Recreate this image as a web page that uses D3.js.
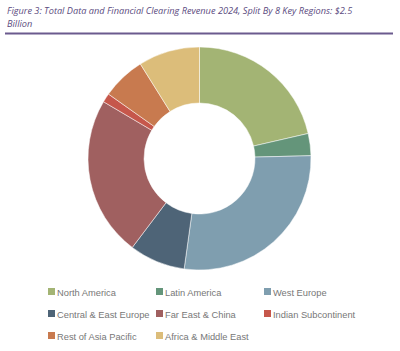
<!DOCTYPE html>
<html>
<head>
<meta charset="utf-8">
<script src="https://cdn.jsdelivr.net/npm/d3@7"></script>
<style>
  body { margin: 0; background: #fff; }
  svg { display: block; }
</style>
</head>
<body>
<div id="chart"></div>
<script>
// Revenue share by region (% of $2.5B)
const regions = ['North America', 'Latin America', 'West Europe', 'Central & East Europe',
    'Far East & China', 'Indian Subcontinent', 'Rest of Asia Pacific', 'Africa & Middle East'];
const shares = [21.4, 3.2, 27.6, 8.1, 23.2, 1.3, 6.3, 8.9];
const colors = ['#a3b474', '#64957a', '#7f9eaf', '#4e6477', '#a06060', '#c6574b', '#c87a4f', '#dcbd7a'];
const titleLines = ['Figure 3: Total Data and Financial Clearing Revenue 2024, Split By 8 Key Regions: $2.5', 'Billion'];

const width = 400, height = 351;

const svg = d3.select('#chart')
    .append('svg')
    .attr('width', width)
    .attr('height', height);

// Title
svg.append('g')
    .selectAll('text')
    .data(titleLines)
    .enter()
    .append('text')
    .attr('x', 7)
    .attr('y', (d, i) => 14 + i * 13)
    .text(d => d)
    .style('font-family', '"Open Sans", sans-serif')
    .style('font-style', 'italic')
    .style('font-size', '9.2px')
    .style('fill', '#5b4b80');

svg.append('line')
    .attr('x1', 5).attr('x2', 393)
    .attr('y1', 33.5).attr('y2', 33.5)
    .attr('stroke', '#6b5a8e')
    .attr('stroke-width', 2);

// Donut
const pie = d3.pie().sort(null).value(d => d);
const arc = d3.arc().innerRadius(55.5).outerRadius(111.5);

const donut = svg.append('g')
    .attr('transform', 'translate(199.5,158.5)');

donut.selectAll('path')
    .data(pie(shares))
    .enter()
    .append('path')
    .attr('d', arc)
    .attr('fill', (d, i) => colors[i])
    .attr('stroke', '#fff')
    .attr('stroke-width', 0.5);

// Legend, 3 columns
const colX = [48, 156, 264];
const rowY = [292, 314, 336];

const legend = svg.append('g')
    .selectAll('g')
    .data(regions)
    .enter()
    .append('g')
    .attr('transform', (d, i) => `translate(${colX[i % 3]},${rowY[Math.floor(i / 3)]})`);

legend.append('rect')
    .attr('x', 0).attr('y', -4)
    .attr('width', 7).attr('height', 7)
    .attr('fill', (d, i) => colors[i]);

legend.append('text')
    .attr('x', 9)
    .attr('y', 3.5)
    .text(d => d)
    .style('font-family', '"Liberation Sans", Arial, sans-serif')
    .style('font-size', '9.3px')
    .style('fill', '#777');
</script>
</body>
</html>
